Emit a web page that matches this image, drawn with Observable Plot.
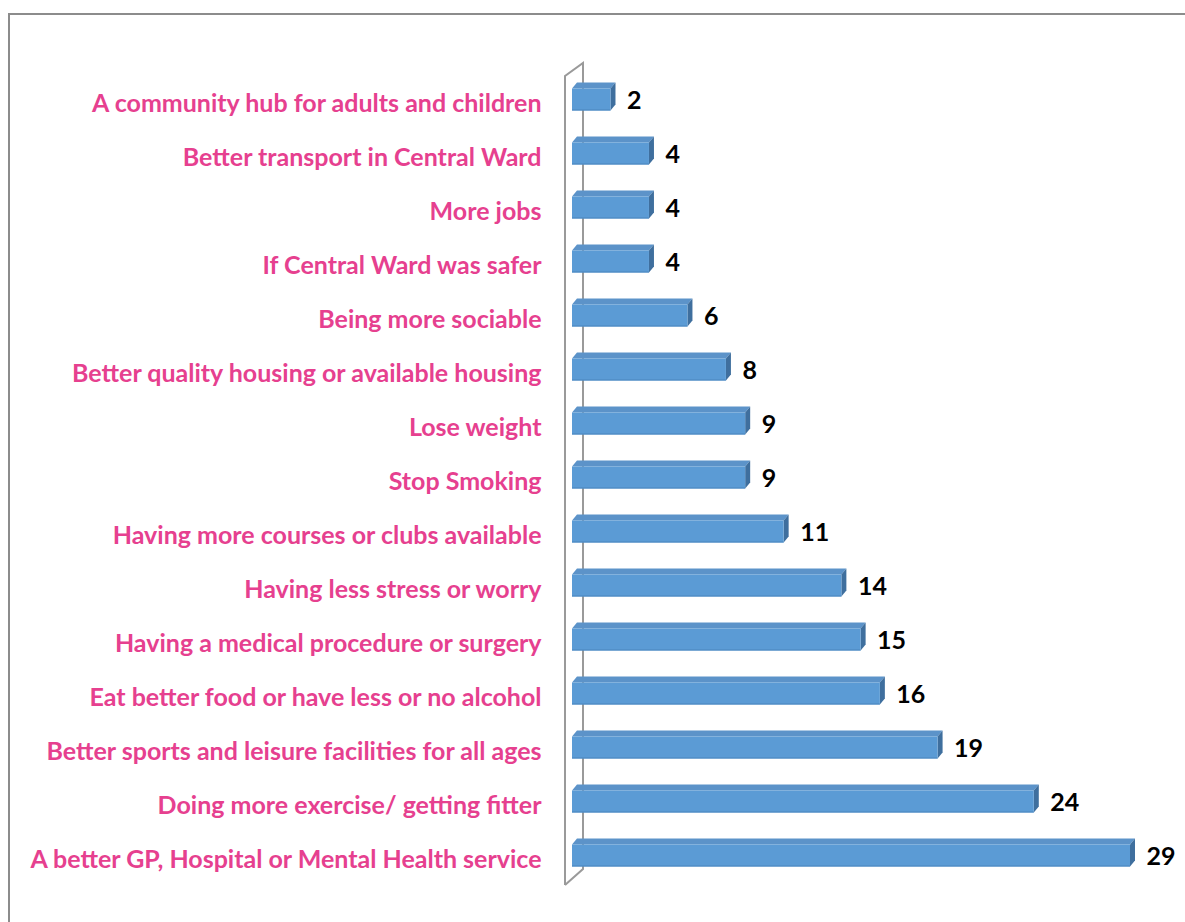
<!DOCTYPE html>
<html>
<head>
<meta charset="utf-8">
<script src="https://cdn.jsdelivr.net/npm/d3@7"></script>
<script src="https://cdn.jsdelivr.net/npm/@observablehq/plot@0.6"></script>
<style>
  html, body { margin: 0; padding: 0; background: #fff; }
  #wrap { position: relative; width: 1185px; height: 922px; overflow: hidden; }
  #frame { position: absolute; left: 8px; top: 13px; right: -10px; bottom: -10px;
           border-top: 2px solid #8c8c8c; border-left: 2px solid #8c8c8c; pointer-events: none; }
  #chart { position: absolute; left: 0; top: 0; }
</style>
</head>
<body>
<div id="wrap"><div id="chart"></div><div id="frame"></div></div>
<script>
const categories = [
  "A community hub for adults and children",
  "Better transport in Central Ward",
  "More jobs",
  "If Central Ward was safer",
  "Being more sociable",
  "Better quality housing or available housing",
  "Lose weight",
  "Stop Smoking",
  "Having more courses or clubs available",
  "Having less stress or worry",
  "Having a medical procedure or surgery",
  "Eat better food or have less or no alcohol",
  "Better sports and leisure facilities for all ages",
  "Doing more exercise/ getting fitter",
  "A better GP, Hospital or Mental Health service"
];
const values = [2, 4, 4, 4, 6, 8, 9, 9, 11, 14, 15, 16, 19, 24, 29];

const data = categories.map((c, i) => ({label: c, value: values[i]}));

const FRONT = "#5b9bd5", TOP = "#5c93c9", SIDE = "#3f6f9e";
const DEPTH_X = 5, DEPTH_Y = 6;
const FACE_TOP = 16.5, FACE_H = 22;

function wall(index, scales) {
  const x = scales.x, y = scales.y;
  const bw = y.bandwidth ? y.bandwidth() : 54.4;
  const x0 = x(0);
  const yTop = y(categories[0]);
  const yBot = y(categories[categories.length - 1]) + bw;
  const g = d3.create("svg:g")
    .attr("fill", "none").attr("stroke", "#9a9a9a").attr("stroke-width", 2);
  const fx = x0 - 7, bx = x0 + 11;
  g.append("path").attr("d",
    `M${fx},${yBot + 3} L${fx},${yTop + 4} L${bx},${yTop - 9} L${bx},${yBot - 13} L${fx},${yBot + 3}`);
  return g.node();
}

function bars3d(index, scales) {
  const x = scales.x, y = scales.y;
  const g = d3.create("svg:g");
  const x0 = x(0);
  for (const d of data) {
    const x1 = x(d.value);
    const t = y(d.label) + FACE_TOP, b = t + FACE_H;
    g.append("path").attr("fill", TOP)
      .attr("d", `M${x0},${t} L${x0 + DEPTH_X},${t - DEPTH_Y} L${x1 + DEPTH_X},${t - DEPTH_Y} L${x1},${t} Z`);
    g.append("path").attr("fill", SIDE)
      .attr("d", `M${x1},${t} L${x1 + DEPTH_X},${t - DEPTH_Y} L${x1 + DEPTH_X},${b - DEPTH_Y} L${x1},${b} Z`);
    g.append("rect").attr("fill", FRONT)
      .attr("x", x0).attr("y", t).attr("width", x1 - x0).attr("height", FACE_H);
    g.append("line").attr("stroke", "#4a85bd").attr("stroke-width", 1)
      .attr("x1", x0).attr("x2", x1).attr("y1", b - 0.5).attr("y2", b - 0.5);
  }
  return g.node();
}

const plot = Plot.plot({
  width: 1185,
  height: 922,
  marginLeft: 572,
  marginRight: 55,
  marginTop: 69,
  marginBottom: 37,
  x: {type: "linear", domain: [0, 29], axis: null},
  y: {type: "band", domain: categories, padding: 0, axis: null},
  style: {background: "transparent"},
  marks: [
    wall,
    bars3d,
    Plot.text(data, {
      x: 0, y: "label", text: "label", textAnchor: "end", dx: -31, dy: 4,
      fill: "#e6408f", fontWeight: "bold", fontSize: 25,
      fontFamily: "Lato, 'Open Sans', sans-serif"
    }),
    Plot.text(data, {
      x: "value", y: "label", text: d => String(d.value), textAnchor: "start", dx: 16, dy: 1,
      fill: "#000", fontWeight: "bold", fontSize: 25,
      fontFamily: "Lato, 'Open Sans', sans-serif"
    })
  ]
});
document.getElementById("chart").appendChild(plot);
</script>
</body>
</html>
